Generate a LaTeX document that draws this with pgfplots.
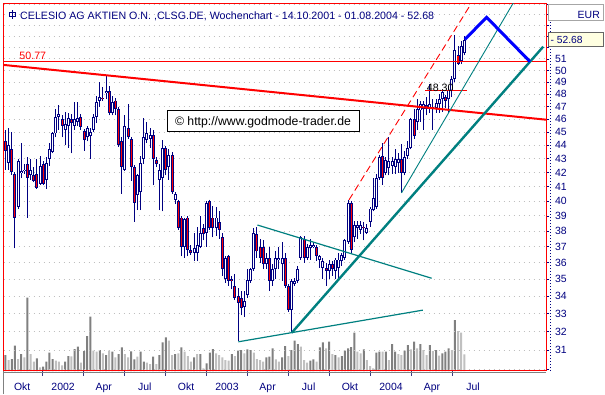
\documentclass[border=0pt]{standalone}
\usepackage{fontspec}
\setmainfont{Liberation Sans}
\usepackage{pgfplots}
\usepackage{pgfplotstable}
\pgfplotsset{compat=1.18}
\definecolor{navy}{HTML}{000080}
\definecolor{tealc}{HTML}{008080}
\definecolor{volD}{HTML}{808080}
\definecolor{volL}{HTML}{C0C0C0}
\definecolor{cream}{HTML}{FFFFE1}
\newcommand\ff[1]{\fontsize{#1}{#1}\selectfont}

\pgfplotstableread{
i o h l c
0 44.3 45.2 42.2 43.6
1 42.7 45.3 42.2 44.0
2 43.75 45.0 41.85 42.05
3 41.9 42.0 36.9 38.9
4 39.6 43.0 39.5 42.8
5 42.0 44.2 41.6 42.1
6 42.1 42.6 41.9 42.2
7 42.6 43.1 38.9 41.6
8 41.8 43.0 41.5 42.2
9 41.8 42.4 41.3 41.4
10 41.9 43.0 40.85 40.9
11 41.2 43.2 41.1 42.5
12 42.6 42.8 41.1 41.2
13 41.5 43.1 40.85 42.7
14 43.0 44.2 42.5 43.7
15 43.5 45.0 43.4 44.9
16 44.9 46.8 44.6 46.2
17 46.2 47.1 45.2 46.4
18 46.0 46.3 44.6 45.5
19 45.2 46.6 44.0 45.6
20 45.5 46.5 43.8 46.1
21 46.0 46.4 43.4 45.7
22 45.5 47.4 45.2 46.0
23 45.8 47.4 45.5 46.1
24 46.2 46.4 45.2 45.4
25 45.1 45.2 43.6 44.4
26 44.6 45.5 44.3 45.3
27 44.7 45.3 43.0 45.0
28 45.2 46.4 45.0 46.2
29 46.2 47.9 45.7 47.4
30 47.5 49.0 47.0 47.8
31 47.7 48.6 47.5 47.6
32 48.1 49.5 47.6 48.3
33 48.3 48.7 46.3 46.5
34 46.5 47.9 46.3 47.4
35 47.5 47.7 46.3 46.8
36 46.8 47.0 43.9 44.0
37 44.3 44.6 40.5 42.4
38 42.2 46.3 42.1 45.5
39 45.3 47.2 44.5 44.6
40 44.5 44.6 41.4 42.4
41 42.4 42.5 38.6 39.9
42 40.4 41.9 39.4 41.8
43 40.6 43.2 39.4 42.7
44 43.0 46.1 42.6 44.6
45 44.4 45.8 44.2 44.9
46 44.5 45.3 43.8 44.8
47 44.8 45.2 41.1 43.0
48 42.9 43.1 42.4 42.6
49 41.5 42.6 39.4 42.2
50 41.6 44.4 39.3 43.8
51 43.8 43.9 41.8 42.2
52 42.4 43.7 41.5 43.3
53 43.3 43.5 40.5 40.6
54 40.1 40.6 39.8 40.5
55 40.0 40.1 38.1 38.2
56 38.9 38.95 36.4 37.0
57 37.0 38.9 36.3 38.8
58 38.9 39.0 36.4 36.8
59 36.8 37.1 36.5 36.6
60 36.6 37.9 36.1 36.9
61 36.6 38.3 36.1 37.1
62 37.0 39.0 36.9 37.9
63 38.2 38.5 37.4 37.8
64 37.9 40.0 37.0 39.9
65 40.0 40.1 38.1 38.2
66 38.9 39.7 37.6 38.2
67 38.2 39.6 37.7 38.9
68 38.6 39.3 37.5 38.1
69 37.6 37.9 35.2 35.6
70 35.0 36.4 34.8 36.3
71 36.4 36.5 34.6 34.9
72 35.0 35.2 34.4 34.9
73 34.6 35.3 33.8 33.9
74 34.0 34.5 31.5 33.6
75 33.9 34.3 32.9 33.3
76 33.4 34.3 32.8 33.7
77 34.05 35.6 33.9 34.95
78 34.9 35.7 34.8 35.6
79 35.6 38.2 35.5 37.9
80 37.8 38.3 36.3 36.7
81 37.0 37.5 36.0 36.3
82 37.0 37.4 35.6 35.9
83 35.9 36.6 35.6 36.3
84 36.3 37.0 34.3 34.9
85 34.9 35.9 34.6 35.6
86 35.6 36.7 35.0 36.3
87 36.2 37.0 35.6 36.3
88 35.9 37.3 34.9 36.3
89 36.3 36.6 34.5 34.6
90 34.6 34.7 33.1 33.2
91 33.2 35.0 31.95 34.9
92 34.7 35.1 34.6 34.9
93 34.9 35.8 34.8 35.6
94 36.3 37.7 36.2 37.6
95 37.5 37.7 36.0 36.3
96 36.3 37.2 36.2 37.0
97 36.9 37.5 36.2 37.1
98 37.0 37.3 36.9 37.1
99 37.0 37.1 36.1 36.4
100 36.2 36.5 35.7 36.4
101 35.7 36.3 35.0 36.1
102 35.7 36.0 34.6 35.5
103 35.5 36.2 35.0 35.9
104 35.9 36.1 35.2 35.6
105 35.5 36.3 35.0 36.2
106 35.7 36.6 35.0 36.2
107 36.1 36.6 35.8 36.5
108 36.3 37.5 36.2 37.4
109 37.3 40.1 37.2 39.9
110 39.9 40.0 36.6 36.8
111 37.6 38.7 37.3 38.4
112 38.2 38.7 37.5 38.4
113 38.1 38.7 37.8 38.4
114 38.3 38.6 37.4 38.2
115 37.9 38.5 37.8 38.2
116 38.6 39.6 38.3 39.5
117 39.4 41.6 39.3 40.2
118 39.6 41.9 39.5 41.6
119 41.6 43.3 41.5 43.1
120 43.2 44.2 41.1 41.6
121 42.0 43.1 41.8 42.9
122 42.3 44.6 41.8 42.8
123 42.5 43.1 41.9 42.8
124 42.4 43.7 41.9 43.0
125 42.7 43.4 42.0 43.0
126 43.0 44.1 40.56 42.0
127 42.0 43.6 41.8 43.1
128 43.2 44.3 43.0 43.8
129 43.8 46.1 43.7 46.0
130 46.0 46.8 44.5 44.7
131 45.8 47.6 45.2 46.8
132 46.7 47.5 45.8 47.2
133 46.8 47.5 45.2 47.2
134 47.1 47.8 46.3 46.8
135 46.8 48.9 46.5 47.2
136 47.0 47.6 45.2 46.9
137 46.9 47.6 46.5 47.3
138 47.2 48.0 46.5 47.6
139 47.6 48.2 46.6 48.2
140 47.8 47.9 46.9 47.5
141 47.6 48.7 46.5 48.4
142 48.3 49.5 47.8 49.3
143 49.3 53.1 49.0 51.8
144 51.3 52.1 50.5 50.6
145 50.8 52.6 50.6 52.1
146 51.5 53.0 51.3 52.68
}\candles

\pgfplotstableread{
i v k
0 16 1
1 11 0
2 12 1
3 25.3 1
4 12 0
5 17 1
6 13.7 0
7 73.3 1
8 17 0
9 9.3 0
10 12.7 1
11 3.7 0
12 4.3 1
13 9.3 1
14 18.3 1
15 12 1
16 10.3 0
17 9.3 0
18 5.7 0
19 9.3 1
20 15 1
21 14.7 0
22 22 1
23 24.3 1
24 8.3 0
25 20 1
26 35 1
27 54.3 1
28 20.3 0
29 19.3 0
30 21 1
31 17.7 0
32 16 1
33 20.3 0
34 19.3 1
35 13.7 0
36 17 1
37 23.7 1
38 17 0
39 13.7 0
40 19.7 1
41 11.7 1
42 14.3 0
43 19.3 1
44 9.3 1
45 8.3 0
46 7 0
47 14.3 1
48 7 0
49 16 1
50 28.7 1
51 33.7 1
52 30.3 0
53 16 0
54 17 1
55 17.7 0
56 23.7 1
57 19.3 0
58 15 0
59 9.3 0
60 13.7 1
61 17 0
62 17 1
63 2.7 0
64 7.7 1
65 18.3 1
66 22 1
67 17.7 0
68 16 0
69 13.7 0
70 11 0
71 10.3 0
72 17 1
73 15 0
74 20.3 1
75 21 1
76 17.7 0
77 21.7 1
78 21 1
79 18.3 0
80 12 0
81 11 0
82 9.3 0
83 13.7 1
84 14.3 1
85 22.7 1
86 11.7 0
87 9.3 0
88 13.7 1
89 25 1
90 15 0
91 21 1
92 30.3 1
93 27 1
94 24.3 0
95 11 0
96 8.3 0
97 10.3 1
98 11.7 1
99 9.3 0
100 23.7 1
101 28.7 1
102 22.7 0
103 29.3 1
104 17 0
105 16 1
106 13.7 0
107 15 1
108 20.3 1
109 22.7 1
110 24 1
111 38.3 1
112 19.3 0
113 17.7 0
114 21.7 1
115 11 0
116 5 0
117 2.7 0
118 18.3 1
119 19.3 1
120 19.3 0
121 19.3 1
122 11 0
123 27 1
124 19.3 1
125 17 0
126 16 0
127 20.3 1
128 26 1
129 21.7 0
130 29.3 1
131 22.7 0
132 27 1
133 21 0
134 16 0
135 26 1
136 20 0
137 21 1
138 15.3 0
139 17.7 1
140 19.3 1
141 22.7 1
142 21 0
143 51 1
144 40 0
145 38.3 0
146 16.7 0
}\vol

\begin{document}
\begin{tikzpicture}[x=1bp,y=1bp]
\fill[white] (0,0) rectangle (605,394);
\useasboundingbox (0,0) rectangle (605,394);
\pgfplotsset{commonax/.style={at={(3.5bp,23bp)}, anchor=south west, scale only axis,
  width=542.5bp, height=367.7bp, xmin=-0.636, xmax=171.99}}
% volume
\begin{axis}[commonax, ymin=0, ymax=367.7, axis lines=none]
\addplot[ybar, bar width=2bp, bar shift=0pt, fill=volD, draw=none,
  restrict expr to domain={\thisrow{k}}{0.5:1.5}] table[x=i,y=v]{\vol};
\addplot[ybar, bar width=2bp, bar shift=0pt, fill=volL, draw=none,
  restrict expr to domain={\thisrow{k}}{-0.5:0.5}] table[x=i,y=v]{\vol};
\end{axis}
% prices
\begin{axis}[commonax, ymode=log, ymin=29.92, ymax=56.09,
  axis line style={draw=red, line width=1bp},
  ytick={30,31,...,56},
  yticklabels={,31,32,33,34,35,36,37,38,39,40,41,42,43,44,45,46,47,48,49,50,51,,,,,},
  ytick pos=right, yticklabel pos=right,
  ymajorgrids, major grid style={draw=gray!50, line width=1bp, dash pattern=on 1bp off 4bp},
  ytick style={draw=navy, line width=0.7bp},
  tick align=outside, major tick length=3bp,
  yticklabel style={anchor=west, xshift=2.5bp, text=navy, font=\ff{10.5}},
  xtick={5.327,18.327,31.256,44.327,57.47,70.47,83.399,96.47,109.61,122.685,135.685,148.756},
  xticklabels={Okt,2002,Apr,Jul,Okt,2003,Apr,Jul,Okt,2004,Apr,Jul},
  xtick pos=left,
  xtick style={draw=none},
  xticklabel style={anchor=north, yshift=-5.5bp, text=navy, font=\ff{10.5}},
  extra x ticks={11.899,24.756,37.756,50.899,64.042,76.899,89.899,103.042,116.185,129.185,142.185},
  extra x tick labels={},
  extra x tick style={major tick length=5bp, xtick style={draw=navy!55!gray, line width=0.8bp}},
]
% wicks
\addplot[draw=none, forget plot, error bars/.cd, y dir=plus, y explicit, error mark=none,
  error bar style={draw=navy, line width=1bp}]
  table[x=i, y=l, y error plus expr=\thisrow{h}-\thisrow{l}]{\candles};
% body outline
\addplot[draw=none, forget plot, error bars/.cd, y dir=plus, y explicit, error mark=-,
  error mark options={draw=navy, line width=0.9bp, mark size=1.5bp},
  error bar style={draw=navy, line width=3bp}]
  table[x=i, y expr={min(\thisrow{o},\thisrow{c})}, y error plus expr={abs(\thisrow{c}-\thisrow{o})}]{\candles};
% up bodies
\addplot[draw=none, forget plot, restrict expr to domain={\thisrow{c}-\thisrow{o}}{0.06:100},
  error bars/.cd, y dir=plus, y explicit, error mark=none,
  error bar style={draw=white, line width=1.1bp, shorten >=0.9bp, shorten <=0.9bp}]
  table[x=i, y=o, y error plus expr=\thisrow{c}-\thisrow{o}]{\candles};
% down bodies
\addplot[draw=none, forget plot, restrict expr to domain={\thisrow{o}-\thisrow{c}}{0.06:100},
  error bars/.cd, y dir=plus, y explicit, error mark=none,
  error bar style={draw=red, line width=1.1bp, shorten >=0.9bp, shorten <=0.9bp}]
  table[x=i, y=c, y error plus expr=\thisrow{o}-\thisrow{c}]{\candles};
% overlays
\addplot[red, line width=0.9bp] coordinates {(-0.636,50.77) (171.99,50.77)};
\addplot[red, line width=0.9bp] coordinates {(133.6,48.3) (146.9,48.3)};
\addplot[red, line width=2bp] coordinates {(-0.636,50.48) (171.99,45.97)};
\addplot[red, line width=0.9bp, dash pattern=on 7bp off 4bp] coordinates {(109.3,40.08) (148.1,56.02)};
\addplot[tealc, line width=0.9bp] coordinates {(126.0,40.56) (163,56.86)};
\addplot[tealc, line width=2.4bp] coordinates {(91.1,31.94) (171.1,52.08)};
\addplot[tealc, line width=1.2bp] coordinates {(80.16,38.40) (135.6,35.06)};
\addplot[tealc, line width=1.2bp] coordinates {(74.1,31.45) (132.8,33.20)};
\addplot[blue, line width=3bp] coordinates {(146.2,52.74) (153.1,54.76) (166.9,50.76)};
\end{axis}
% decorations
\draw[gray, line width=1.5bp] (3,21.3) -- (546,21.3);
\draw[gray, line width=1bp] (3,0) -- (3,23);
\draw[navy, line width=0.8bp, dash pattern=on 0.8bp off 2.2bp] (550,23) -- (550,391);
% title
\draw[navy, line width=0.9bp] (9.5,377.5) rectangle (15.5,381.5);
\draw[navy, line width=0.9bp] (12.5,375) -- (12.5,384);
\node[anchor=base west, inner sep=0, text=navy, font=\ff{10.7}] at (20,375)
  {CELESIO AG AKTIEN O.N. ,CLSG.DE, Wochenchart - 14.10.2001 - 01.08.2004 - 52.68};
\node[anchor=base west, inner sep=0, text=red, font=\ff{10.7}] at (19.3,335) {50.77};
\node[anchor=base west, inner sep=0, text=black, font=\ff{10.7}] at (426.7,302.3) {48.30};
% copyright box
\draw[black, line width=1bp, fill=white] (167.5,263) rectangle (359,283.5);
\node[anchor=base, inner sep=0, font=\ff{12.3}] at (263,269) {© http://www.godmode-trader.de};
% EUR box
\draw[gray!70, line width=1bp, fill=white] (548.3,373) rectangle (603.5,389.5);
\node[anchor=base east, inner sep=0, text=navy, font=\ff{10.5}] at (600,375.7) {EUR};
% last price box
\draw[gray!80!black, line width=0.8bp, fill=cream] (548.3,347.3) rectangle (603.3,361.7);
\node[anchor=base west, inner sep=0, text=navy, font=\ff{10.3}] at (550.5,350.7) {- 52.68};
\end{tikzpicture}
\end{document}
